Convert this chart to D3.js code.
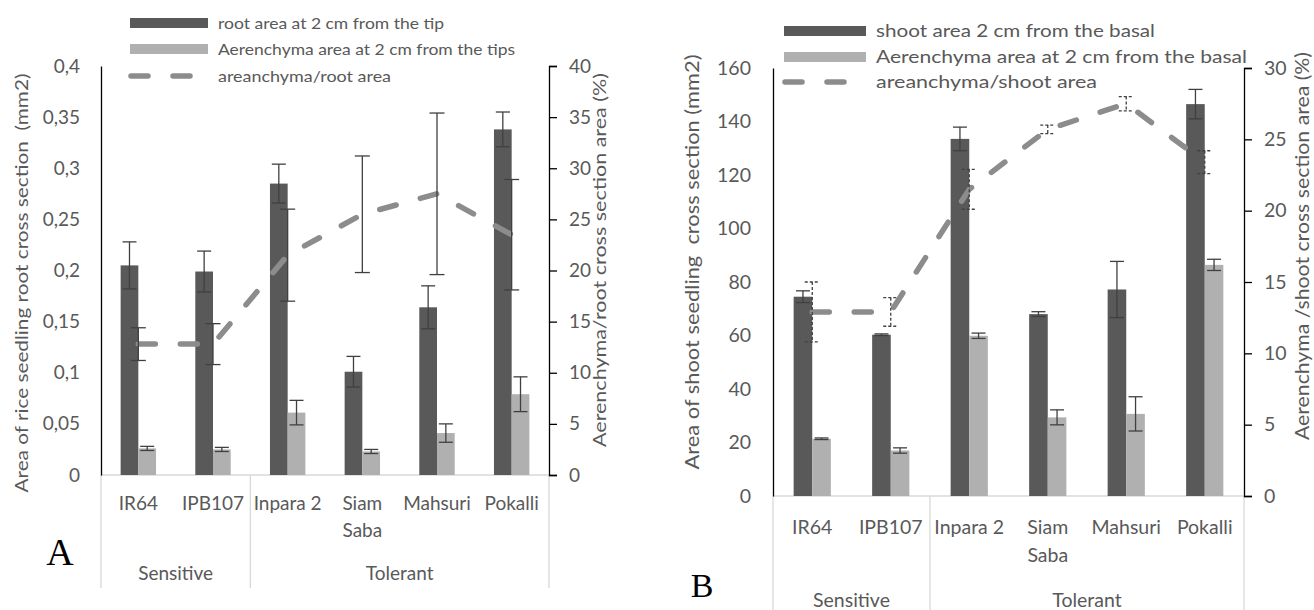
<!DOCTYPE html>
<html>
<head>
<meta charset="utf-8">
<script src="https://cdn.jsdelivr.net/npm/d3@7"></script>
<style>
  body { margin: 0; background: #fff; }
  text { font-family: Lato, "Open Sans", sans-serif; fill: #595959; }
</style>
</head>
<body>
<div id="chart"></div>
<script>
// categories shared by both panels ("\n" = line break in the label)
var categories = ["IR64", "IPB107", "Inpara 2", "Siam\nSaba", "Mahsuri", "Pokalli"];
var groupNames = ["Sensitive", "Tolerant"];
var groupSizes = [2, 4];

// A - root, 2 cm from the tip
var rootArea     = [0.205, 0.199, 0.285, 0.101, 0.164, 0.338];
var rootAreaErr  = [0.023, 0.020, 0.019, 0.015, 0.021, 0.017];
var rootAer      = [0.026, 0.025, 0.061, 0.023, 0.041, 0.079];
var rootAerErr   = [0.002, 0.002, 0.012, 0.002, 0.009, 0.017];
var rootRatio    = [12.8, 12.8, 21.5, 25.5, 27.5, 23.5];
var rootRatioErr = [1.6, 2.0, 4.5, 5.7, 7.9, 5.4];
var rootTicks      = [0, 0.05, 0.1, 0.15, 0.2, 0.25, 0.3, 0.35, 0.4];
var rootRatioTicks = [0, 5, 10, 15, 20, 25, 30, 35, 40];
var rootLegend = ["root area at 2 cm from the tip", "Aerenchyma area at 2 cm from the tips", "areanchyma/root area"];

// B - shoot, 2 cm from the basal
var shootArea     = [74.5, 60.3, 133.5, 68.0, 77.2, 146.5];
var shootAreaErr  = [2.2, 0.3, 4.4, 0.9, 10.5, 5.5];
var shootAer      = [21.4, 17.0, 59.9, 29.4, 30.7, 86.4];
var shootAerErr   = [0.3, 1.0, 1.0, 2.8, 6.4, 2.1];
var shootRatio    = [12.9, 12.9, 21.5, 25.7, 27.5, 23.4];
var shootRatioErr = [2.1, 1.0, 1.4, 0.3, 0.5, 0.8];
var shootTicks      = [0, 20, 40, 60, 80, 100, 120, 140, 160];
var shootRatioTicks = [0, 5, 10, 15, 20, 25, 30];
var shootLegend = ["shoot area 2 cm from the basal", "Aerenchyma area at 2 cm from the basal", "areanchyma/shoot area"];

var darkColor = "#595959", lightColor = "#b0b0b0", lineColor = "#8c8c8c", errColor = "#404040";

var svg = d3.select("#chart").append("svg")
  .attr("width", 1314).attr("height", 610)
  .style("background", "#fff");

var comma = function (d) { return d3.format(".2~f")(d).replace(".", ","); };

function errBar(g, cx, yTop, yBot, cap, dashed) {
  var e = g.append("g")
    .attr("stroke", errColor).attr("stroke-width", 1.3).attr("fill", "none");
  if (dashed) e.attr("stroke-dasharray", "3,2");
  e.append("line").attr("x1", cx).attr("x2", cx).attr("y1", yTop).attr("y2", yBot);
  e.append("line").attr("x1", cx - cap / 2).attr("x2", cx + cap / 2).attr("y1", yTop).attr("y2", yTop);
  e.append("line").attr("x1", cx - cap / 2).attr("x2", cx + cap / 2).attr("y1", yBot).attr("y2", yBot);
}

function drawPanel(p) {
  var g = svg.append("g");
  var x = d3.scaleBand().domain(categories).range([p.x0, p.x1]);
  var bw = x.bandwidth() * 0.237;
  var cx = function (c) { return x(c) + x.bandwidth() / 2; };
  var y = d3.scaleLinear().domain([0, p.ticks[p.ticks.length - 1]]).range([p.yBase, p.yTop]);
  var y2 = d3.scaleLinear().domain([0, p.ratioTicks[p.ratioTicks.length - 1]]).range([p.yBase, p.yTop]);

  // category axis (grey box lines)
  var cat = g.append("g").attr("stroke", "#d9d9d9").attr("stroke-width", 1.3);
  cat.append("line").attr("x1", p.x0).attr("x2", p.x1).attr("y1", p.yBase).attr("y2", p.yBase);
  var bounds = [0], acc = 0;
  groupSizes.forEach(function (n) { acc += n; bounds.push(acc); });
  bounds.forEach(function (b) {
    var bx = b < categories.length ? x(categories[b]) : p.x1;
    cat.append("line").attr("x1", bx).attr("x2", bx).attr("y1", p.yBase).attr("y2", p.catBottom);
  });

  // bars
  g.selectAll(".dark").data(categories).join("rect")
    .attr("x", function (c) { return cx(c) - bw; })
    .attr("width", bw)
    .attr("y", function (c, i) { return y(p.area[i]); })
    .attr("height", function (c, i) { return p.yBase - y(p.area[i]); })
    .attr("fill", darkColor);
  g.selectAll(".light").data(categories).join("rect")
    .attr("x", function (c) { return cx(c); })
    .attr("width", bw)
    .attr("y", function (c, i) { return y(p.aer[i]); })
    .attr("height", function (c, i) { return p.yBase - y(p.aer[i]); })
    .attr("fill", lightColor);

  categories.forEach(function (c, i) {
    errBar(g, cx(c) - bw / 2, y(p.area[i] + p.areaErr[i]), y(p.area[i] - p.areaErr[i]), 14, false);
    errBar(g, cx(c) + bw / 2, y(p.aer[i] + p.aerErr[i]), y(p.aer[i] - p.aerErr[i]), 14, false);
  });

  // ratio line on secondary axis
  var line = d3.line()
    .x(function (d, i) { return cx(categories[i]); })
    .y(function (d) { return y2(d); });
  g.append("path").datum(p.ratio)
    .attr("d", line)
    .attr("fill", "none")
    .attr("stroke", lineColor)
    .attr("stroke-width", 5.5)
    .attr("stroke-linecap", "round")
    .attr("stroke-dasharray", "17,25");
  categories.forEach(function (c, i) {
    errBar(g, cx(c), y2(p.ratio[i] + p.ratioErr[i]), y2(p.ratio[i] - p.ratioErr[i]), 15, p.dashedRatioErr);
  });

  // left value axis
  var gl = g.append("g")
    .attr("transform", "translate(" + p.x0 + ",0)")
    .call(d3.axisLeft(y).tickValues(p.ticks).tickFormat(p.fmt)
      .tickSize(0).tickSizeOuter(0).tickPadding(p.padL));
  gl.attr("font-family", null).attr("font-size", null);
  gl.select(".domain").attr("stroke", "#000").attr("stroke-width", 1.3);
  gl.selectAll("text").style("font-size", p.fontSize + "px").attr("fill", null);

  // right value axis
  var gr = g.append("g")
    .attr("transform", "translate(" + p.x1 + ",0)")
    .call(d3.axisRight(y2).tickValues(p.ratioTicks)
      .tickSize(8).tickSizeOuter(8).tickPadding(12));
  gr.attr("font-family", null).attr("font-size", null);
  gr.select(".domain").attr("stroke", "#000").attr("stroke-width", 1.3);
  gr.selectAll(".tick line").attr("stroke", "#000").attr("stroke-width", 1.3);
  gr.selectAll("text").style("font-size", p.fontSize + "px").attr("fill", null);

  // category labels
  g.selectAll(".catlab").data(categories).join("text")
    .attr("text-anchor", "middle")
    .style("font-size", p.fontSize + "px")
    .each(function (c) {
      var t = d3.select(this);
      c.split("\n").forEach(function (s, k) {
        t.append("tspan").attr("x", cx(c)).attr("y", p.catY + k * p.catLine).attr("dy", "0.35em").text(s);
      });
    });
  // group labels
  groupNames.forEach(function (name, k) {
    var a = x(categories[bounds[k]]);
    var b = bounds[k + 1] < categories.length ? x(categories[bounds[k + 1]]) : p.x1;
    g.append("text")
      .attr("x", (a + b) / 2).attr("y", p.groupY).attr("dy", "0.35em")
      .attr("text-anchor", "middle")
      .style("font-size", p.fontSize + "px")
      .text(name);
  });

  // axis titles
  g.append("text")
    .attr("transform", "translate(" + p.titleL[0] + "," + p.titleL[1] + ") rotate(-90)")
    .attr("text-anchor", "middle").attr("dy", "0.35em")
    .attr("textLength", p.titleL[2]).attr("lengthAdjust", "spacingAndGlyphs")
    .style("font-size", p.titleSize + "px").style("white-space", "pre")
    .text(p.titleLText);
  g.append("text")
    .attr("transform", "translate(" + p.titleR[0] + "," + p.titleR[1] + ") rotate(-90)")
    .attr("text-anchor", "middle").attr("dy", "0.35em")
    .attr("textLength", p.titleR[2]).attr("lengthAdjust", "spacingAndGlyphs")
    .style("font-size", p.titleSize + "px").style("white-space", "pre")
    .text(p.titleRText);

  // legend
  var lg = g.append("g");
  lg.append("rect").attr("x", p.legX).attr("y", p.legY[0] - 5).attr("width", p.legW).attr("height", 10).attr("fill", darkColor);
  lg.append("rect").attr("x", p.legX).attr("y", p.legY[1] - 5).attr("width", p.legW).attr("height", 10).attr("fill", lightColor);
  lg.append("line").attr("x1", p.legX + 1).attr("x2", p.legX + 67).attr("y1", p.legY[2]).attr("y2", p.legY[2])
    .attr("stroke", lineColor).attr("stroke-width", 5.5)
    .attr("stroke-linecap", "round").attr("stroke-dasharray", "17,25");
  p.legend.forEach(function (s, k) {
    lg.append("text")
      .attr("x", p.legX + p.legW + 10).attr("y", p.legY[k]).attr("dy", "0.35em")
      .attr("textLength", p.legLen[k]).attr("lengthAdjust", "spacingAndGlyphs")
      .style("font-size", p.legSize + "px")
      .text(s);
  });

  // panel letter
  svg.append("text")
    .attr("x", p.letter[0]).attr("y", p.letter[1])
    .attr("text-anchor", "middle")
    .style("font-family", "'Liberation Serif', 'DejaVu Serif', serif")
    .style("font-size", p.letter[3] + "px")
    .style("fill", "#000")
    .text(p.letter[2]);
}

drawPanel({
  x0: 101, x1: 549, yBase: 475, yTop: 66, catBottom: 588,
  area: rootArea, areaErr: rootAreaErr, aer: rootAer, aerErr: rootAerErr,
  ratio: rootRatio, ratioErr: rootRatioErr, dashedRatioErr: false,
  ticks: rootTicks, ratioTicks: rootRatioTicks, fmt: comma,
  padL: 21, fontSize: 19,
  catY: 503, catLine: 27, groupY: 573,
  titleLText: "Area of rice seedling root cross section  (mm2)", titleL: [22, 283, 419],
  titleRText: "Aerenchyma/root cross section area (%)", titleR: [600, 260, 374],
  titleSize: 18,
  legend: rootLegend, legX: 130, legW: 78, legY: [23, 49, 76], legLen: [226, 297, 173], legSize: 16,
  letter: [60, 565, "A", 38]
});

drawPanel({
  x0: 773, x1: 1244, yBase: 496, yTop: 68, catBottom: 610,
  area: shootArea, areaErr: shootAreaErr, aer: shootAer, aerErr: shootAerErr,
  ratio: shootRatio, ratioErr: shootRatioErr, dashedRatioErr: true,
  ticks: shootTicks, ratioTicks: shootRatioTicks, fmt: d3.format("d"),
  padL: 22, fontSize: 19.5,
  catY: 527, catLine: 28, groupY: 600,
  titleLText: "Area of shoot seedling  cross section (mm2)", titleL: [692, 262, 415],
  titleRText: "Aerenchyma /shoot cross section area (%)", titleR: [1302, 246, 388],
  titleSize: 19,
  legend: shootLegend, legX: 784, legW: 82, legY: [31, 57, 82], legLen: [279, 371, 221], legSize: 17.5,
  letter: [702, 597, "B", 34]
});
</script>
</body>
</html>
